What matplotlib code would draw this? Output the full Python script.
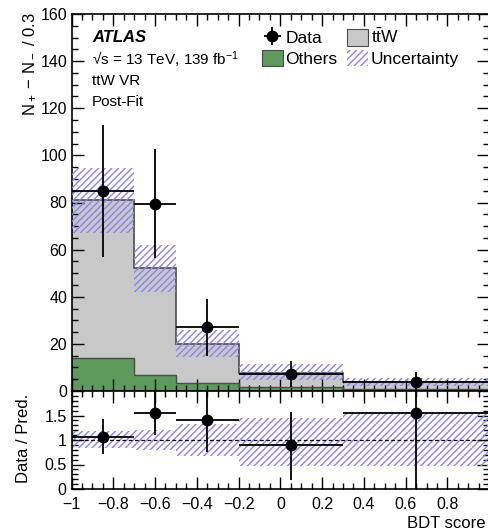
import matplotlib
matplotlib.use("Agg")
import matplotlib.pyplot as plt
import numpy as np
from matplotlib.patches import Patch
from matplotlib.ticker import MultipleLocator, FuncFormatter

plt.rcParams["font.family"] = ["Liberation Sans", "DejaVu Sans"]
plt.rcParams["mathtext.fontset"] = "custom"
plt.rcParams["mathtext.rm"] = "Liberation Sans"
plt.rcParams["mathtext.it"] = "Liberation Sans:italic"
plt.rcParams["mathtext.bf"] = "Liberation Sans:bold"
plt.rcParams["hatch.linewidth"] = 1.0

# binning of the BDT score
bin_edges = [-1.0, -0.7, -0.5, -0.2, 0.3, 1.0]

# post-fit prediction (N+ - N-)
others = [14.0, 7.0, 3.5, 1.8, 0.8]
total_pred = [81.0, 52.0, 20.0, 7.6, 3.9]
unc_low = [67.0, 42.0, 14.5, 4.5, 2.3]
unc_high = [94.5, 62.0, 26.0, 11.6, 5.5]

# data
data = [85.0, 79.5, 27.0, 7.2, 4.0]
data_err = [28.0, 23.0, 12.0, 5.5, 4.2]

# ratio panel
ratio = [1.06, 1.56, 1.40, 0.90, 1.56]
ratio_err_up = [0.36, 0.50, 0.60, 0.68, 1.70]
ratio_err_down = [0.35, 0.45, 0.65, 0.71, 1.70]
ratio_unc_low = [0.83, 0.80, 0.67, 0.46, 0.46]
ratio_unc_high = [1.19, 1.20, 1.33, 1.44, 1.55]

W, H = 488, 532
fig = plt.figure(figsize=(W / 100, H / 100), dpi=100)
left = 71.5 / W
right = 489.2 / W
ax = fig.add_axes([left, 1 - 391 / H, right - left, (391 - 14) / H])
rax = fig.add_axes([left, 1 - 489 / H, right - left, (489 - 391) / H], sharex=ax)

edges = np.array(bin_edges)
centers = 0.5 * (edges[1:] + edges[:-1])
halfw = 0.5 * (edges[1:] - edges[:-1])
widths = edges[1:] - edges[:-1]

grey = "#c8c8c8"
green = "#5e9a5e"
hatch_col = "#8585f2"
line_col = "#4a4a4a"

# stacked prediction
ax.stairs(others, edges, baseline=0, fill=True, color=green, zorder=1)
ax.stairs(total_pred, edges, baseline=others, fill=True, color=grey, zorder=1)
ax.stairs(others, edges, baseline=None, color=line_col, lw=1.0, zorder=2)
ax.stairs(total_pred, edges, baseline=None, color=line_col, lw=1.2, zorder=2)

unc_lo = np.array(unc_low)
unc_hi = np.array(unc_high)
ax.bar(edges[:-1], unc_hi - unc_lo, width=widths, bottom=unc_lo, align="edge",
       facecolor="none", edgecolor=hatch_col, linewidth=0, hatch="/////", zorder=3)

data_h = ax.errorbar(centers, data, xerr=halfw, yerr=data_err, fmt="o", color="black",
                     ms=7.5, elinewidth=1.3, capsize=0, zorder=5)

# ratio panel
r_lo = np.array(ratio_unc_low)
r_hi = np.array(ratio_unc_high)
rax.bar(edges[:-1], r_hi - r_lo, width=widths, bottom=r_lo, align="edge",
        facecolor="none", edgecolor=hatch_col, linewidth=0, hatch="/////", zorder=2)
rax.axhline(1.0, color="black", ls=(0, (3, 2)), lw=0.9, zorder=3)
rax.errorbar(centers, ratio, xerr=halfw, yerr=[ratio_err_down, ratio_err_up], fmt="o",
             color="black", ms=7.5, elinewidth=1.3, capsize=0, zorder=5)

ax.set_xlim(-1.0, 1.0)
ax.set_ylim(0, 160)
rax.set_ylim(0, 2.0)

for a in (ax, rax):
    a.tick_params(which="both", direction="in", top=True, right=True, labelsize=11.5,
                  width=1.0, color="black")
    a.tick_params(which="major", length=8.5)
    a.tick_params(which="minor", length=4.5)
    a.xaxis.set_major_locator(MultipleLocator(0.2))
    a.xaxis.set_minor_locator(MultipleLocator(0.05))
    for s in a.spines.values():
        s.set_linewidth(1.2)


def fmt_x(v, pos):
    v = round(v, 2)
    if v > 0.9:
        return ""
    return f"{v:g}".replace("-", "\u2212")


def fmt_ry(v, pos):
    v = round(v, 2)
    return "" if v > 1.9 else f"{v:g}"


ax.yaxis.set_major_locator(MultipleLocator(20))
ax.yaxis.set_minor_locator(MultipleLocator(5))
rax.yaxis.set_major_locator(MultipleLocator(0.5))
rax.yaxis.set_minor_locator(MultipleLocator(0.1))
rax.yaxis.set_major_formatter(FuncFormatter(fmt_ry))
rax.xaxis.set_major_formatter(FuncFormatter(fmt_x))
ax.tick_params(labelbottom=False)
ax.tick_params(axis="y", pad=3)
rax.tick_params(axis="x", pad=6)

fig.text(30 / W, 1 - 12 / H, r"N$_+$ $-$ N$_-$ / 0.3", rotation=90, ha="center",
         va="top", fontsize=12)
fig.text(24 / W, 1 - 438 / H, "Data / Pred.", rotation=90, ha="center", va="center",
         fontsize=12)
fig.text(407 / W, 1 - 524 / H, "BDT score", ha="left", va="center", fontsize=12)

tx = 92 / W
fig.text(tx, 1 - 38 / H, "ATLAS", fontsize=12, fontweight="bold", style="italic",
         va="center")
fig.text(tx, 1 - 60 / H, "\u221as = 13 TeV, 139 fb$^{-1}$", fontsize=11, va="center")
fig.text(tx, 1 - 81 / H, "ttW VR", fontsize=11, va="center")
fig.text(tx, 1 - 102 / H, "Post-Fit", fontsize=11, va="center")

h_others = Patch(facecolor=green, edgecolor=line_col, lw=0.8)
h_ttw = Patch(facecolor=grey, edgecolor=line_col, lw=0.8)
h_unc = Patch(facecolor="none", edgecolor=hatch_col, lw=0, hatch="/////")
fig.legend([data_h, h_others, h_ttw, h_unc],
           ["Data", "Others", r"t$\bar{\mathrm{t}}$W", "Uncertainty"],
           ncol=2, loc="upper left", bbox_to_anchor=(262 / W, 1 - 28 / H),
           frameon=False, fontsize=12.5, handlelength=1.2, handleheight=1.1,
           handletextpad=0.15, columnspacing=0.55, labelspacing=0.2,
           borderpad=0, borderaxespad=0)

fig.savefig("out.png", dpi=100)
